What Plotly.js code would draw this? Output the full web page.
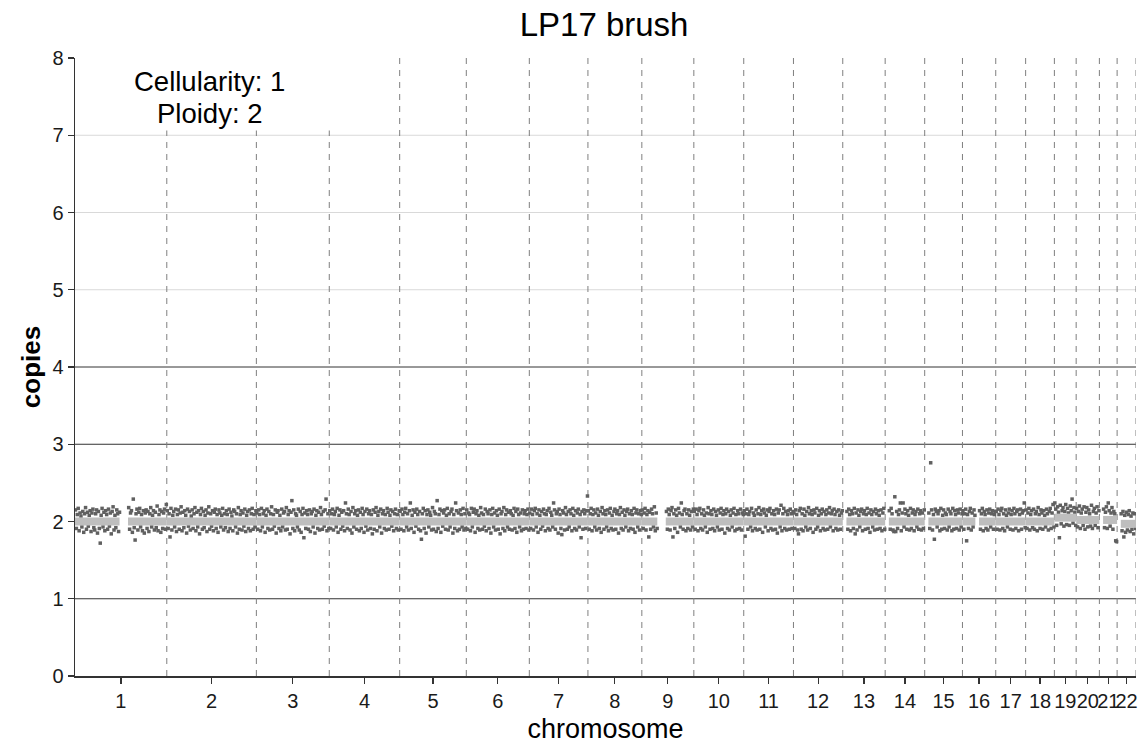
<!DOCTYPE html>
<html>
<head>
<meta charset="utf-8">
<script src="https://cdn.plot.ly/plotly-3.0.1.min.js"></script>
<style>html,body{margin:0;padding:0;background:#fff;}#chart{width:1143px;height:749px;}</style>
</head>
<body>
<div id="chart"></div>
<script>
// ---- data ----
const sampleName = 'LP17 brush';
const cellularity = 1;
const ploidy = 2;
const chromLabels = ['1','2','3','4','5','6','7','8','9','10','11','12','13','14','15','16','17','18','19','20','21','22'];
// chromosome lengths (Mb, hg19)
const chromLenMb = [249.25,243.2,198.02,191.15,180.92,171.12,159.14,146.36,141.21,135.53,135.01,133.85,115.17,107.35,102.53,90.35,81.2,78.08,59.13,63.03,48.13,51.3];
const yTicks = [0,1,2,3,4,5,6,7,8];

// copy number per bin, evenly spaced bins along each chromosome (null = no data)
const copies1 = [2.15,1.91,2.09,2.17,1.88,2.11,2.07,1.93,2.13,1.86,2.10,2.18,1.90,2.12,1.94,2.08,2.14,1.87,2.11,2.16,1.92,1.89,2.10,2.15,1.85,2.13,1.91,1.72,2.08,2.17,1.93,2.12,1.88,2.14,2.09,1.90,2.16,1.94,2.11,1.84,2.13,2.19,1.89,2.08,1.92,2.15,2.10,1.87,2.12,null,null,null,null,null,null,null,null,null,2.18,1.90,2.11,2.14,1.86,2.29,1.92,1.76,2.10,2.16,1.89,2.12,2.17,1.93,2.09,1.88,2.14,1.85,2.11,2.15,1.91,2.13,1.87,2.10,2.18,1.93,2.08,2.14,1.89,2.12,1.92,2.20,1.88,2.09,2.15,1.86,2.13,1.91,2.11,2.16,1.90,2.22];
const copies2 = [2.14,1.91,2.10,1.80,2.17,1.89,2.08,2.13,1.93,2.16,1.87,2.09,2.15,1.90,2.11,2.19,1.88,2.12,1.92,2.14,2.08,1.85,2.16,1.94,2.13,1.89,2.07,2.15,1.91,2.10,2.18,1.88,2.12,1.93,2.14,1.84,2.09,2.17,1.90,2.13,1.92,2.08,2.15,1.87,2.11,2.19,1.90,2.10,1.94,2.14,1.88,2.12,2.16,1.91,2.09,1.86,2.15,2.11,1.93,2.08,2.17,1.89,2.10,1.92,2.14,2.09,1.87,2.16,1.91,2.12,2.07,1.88,2.15,2.13,1.93,2.10,1.85,2.18,1.90,2.09,2.14,1.89,2.11,1.94,2.16,1.87,2.08,2.13,1.91,2.15,1.88,2.10,2.17,1.90,2.09,1.93,2.14];
const copies3 = [2.11,1.90,2.15,2.09,1.88,2.17,1.93,2.10,2.14,1.86,2.08,2.16,1.91,2.13,1.89,2.10,2.19,1.90,2.09,1.94,2.15,1.85,2.12,2.14,1.91,2.08,1.88,2.16,1.93,2.11,2.13,1.89,2.18,1.90,2.09,2.14,1.84,2.12,2.27,1.91,2.15,1.88,2.10,2.08,1.93,2.16,1.89,2.13,1.86,2.09,2.17,1.79,2.11,1.91,2.14,2.09,1.90,2.15,1.87,2.10,2.13,1.93,2.16,1.85,2.08,2.14,1.91,2.12,1.89,2.18,2.09,1.90,2.13,1.94,2.15,2.29,1.88,2.10,1.91];
const copies4 = [2.14,1.91,2.10,2.16,1.89,2.09,2.13,1.93,2.17,1.86,2.08,2.15,1.90,2.12,1.94,2.14,1.88,2.24,2.10,1.91,2.16,2.09,1.89,2.13,1.85,2.18,1.93,2.10,2.14,1.90,2.08,2.15,1.88,2.12,1.91,2.17,2.09,1.86,2.13,1.94,2.16,1.89,2.10,2.14,1.91,2.09,1.84,2.15,1.90,2.12,2.18,1.88,2.08,2.13,1.93,2.16,1.85,2.10,2.14,1.91,2.09,1.89,2.17,2.12,1.90,2.08,2.15,1.94,2.13,1.88,2.10,2.16,1.91,2.09,1.89,2.14];
const copies5 = [2.13,1.90,2.16,2.09,1.88,2.12,2.17,1.93,2.10,1.89,2.14,2.24,1.91,2.08,2.15,1.86,2.12,1.94,2.16,2.09,1.90,2.13,1.88,1.77,2.10,2.17,1.91,2.14,1.85,2.09,2.15,1.93,2.12,2.08,1.89,2.18,1.90,2.13,2.10,1.87,2.27,1.91,2.09,2.16,1.86,2.14,1.94,2.11,2.15,1.90,2.08,2.17,1.89,2.10,1.93,2.13,2.16,1.85,2.09,1.91,2.24,2.14,1.88,2.11,1.90,2.15,2.09,1.93,2.17,1.89,2.10,1.91];
const copies6 = [2.15,1.90,2.11,2.09,1.88,2.17,1.93,2.12,2.16,1.86,2.10,2.14,1.91,2.08,1.89,2.18,2.11,1.90,2.09,1.94,2.16,1.88,2.13,2.10,1.91,2.15,1.85,2.09,2.17,1.93,2.11,1.89,2.14,2.08,1.90,2.16,1.84,2.10,2.13,1.91,2.18,1.88,2.09,2.15,1.93,2.12,1.90,2.14,2.10,1.89,2.08,2.17,1.91,2.13,1.86,2.16,2.09,1.93,2.11,1.88,2.15,1.90,2.10,2.14,1.91,2.09,2.16,1.89];
const copies7 = [2.11,1.91,2.16,2.09,1.89,2.14,2.17,1.93,2.10,1.86,2.15,2.08,1.90,2.13,1.94,2.16,2.10,1.88,2.09,2.14,1.91,2.17,1.89,2.12,2.08,1.93,2.24,2.15,1.90,2.10,2.13,1.85,2.16,2.09,1.91,1.83,2.14,2.11,1.89,2.18,2.09,1.90,2.13,1.93,2.15,2.10,1.88,2.17,2.08,1.91,2.14,1.89,2.11,2.16,1.93,2.09,1.79,2.13,1.90,2.15,2.10,1.91,2.14,2.33];
const copies8 = [2.14,1.90,2.10,2.17,1.88,2.09,2.15,1.93,2.11,1.89,2.16,2.08,1.91,2.13,1.86,2.18,2.10,1.90,2.14,2.09,1.93,2.15,1.88,2.11,2.17,1.91,2.08,1.89,2.13,2.16,1.90,2.10,2.14,1.85,2.09,2.18,1.91,2.12,1.89,2.15,2.08,1.93,2.13,2.16,1.88,2.10,1.91,2.14,2.09,1.90,2.17,1.86,2.11,2.15,1.93,2.10,1.89,2.14,2.09];
const copies9 = [2.15,1.91,2.11,2.17,1.89,2.09,2.14,1.80,2.12,1.90,2.16,2.10,1.93,2.19,1.88,2.11,1.91,null,null,null,null,null,null,null,null,null,2.13,1.90,2.16,2.09,1.89,2.14,2.18,1.80,2.10,1.91,2.15,2.08,1.86,2.17,2.11,1.93,2.24,2.09,1.90,2.14,2.16,1.88,2.10,1.91,2.15,2.08,1.89,2.13,1.93,2.16];
const copies10 = [2.13,1.90,2.16,2.09,1.88,2.14,2.17,1.91,2.10,1.89,2.15,2.08,1.93,2.11,1.86,2.18,2.10,1.90,2.14,2.09,1.91,2.16,1.88,2.13,2.08,1.93,2.15,1.89,2.11,2.17,1.90,2.09,2.14,1.85,2.10,2.16,1.91,2.13,1.89,2.08,2.15,1.93,2.11,2.17,1.88,2.09,1.90,2.14,2.10,1.91,2.16,1.89,2.11,2.09];
const copies11 = [2.14,1.81,2.10,2.16,1.90,2.09,2.13,1.93,2.17,1.88,2.11,2.08,1.91,2.15,1.89,2.10,2.18,1.90,2.09,2.14,1.86,2.16,2.11,1.93,2.08,2.15,1.88,2.13,2.17,1.91,2.10,1.89,2.14,2.09,1.90,2.16,1.85,2.11,2.15,1.93,2.21,1.88,2.10,2.17,1.91,2.13,1.89,2.09,2.14,1.90,2.16,2.10,1.91,2.13];
const copies12 = [2.11,1.91,2.15,2.09,1.89,1.84,2.14,2.17,1.90,2.10,1.88,2.16,2.08,1.93,2.13,1.89,2.18,2.10,1.91,2.14,2.09,1.86,2.15,2.11,1.90,2.17,1.93,2.08,2.14,1.88,2.10,2.16,1.91,2.13,1.89,2.09,2.15,1.90,2.11,2.18,1.93,2.10,2.14,1.88,2.16,2.09,1.91,2.13,1.89,2.15,2.08,1.90,2.11,2.14];
const copies13 = [null,null,null,null,2.13,1.90,2.16,2.09,1.88,2.14,2.10,1.91,2.17,1.84,2.11,1.89,2.15,2.08,1.93,2.13,2.16,1.88,2.10,2.14,1.90,2.09,2.17,1.91,2.11,1.86,2.15,2.09,1.93,2.13,1.89,2.16,2.10,1.90,2.14,2.08,1.91,2.15,1.88,2.11,2.17,1.90];
const copies14 = [null,null,null,null,2.14,1.90,2.17,2.10,1.89,1.87,2.32,1.87,2.13,1.91,2.09,2.15,2.24,1.88,2.11,2.24,1.93,2.16,2.10,1.90,2.14,2.08,1.89,2.17,1.91,2.11,2.15,1.88,2.09,2.13,1.93,2.16,1.90,2.10,2.14,1.89,2.11,1.91,2.15];
const copies15 = [null,null,null,null,2.11,1.91,2.76,2.15,1.89,2.09,1.77,2.16,2.13,1.93,2.10,2.14,1.88,2.17,1.90,2.08,2.15,1.91,2.11,2.09,1.89,2.16,1.93,2.13,2.10,1.88,2.17,1.90,2.14,2.09,1.91,2.15,2.11,1.89,2.16,1.93,2.10];
const copies16 = [2.14,1.90,2.10,2.16,1.75,2.09,1.91,2.13,2.17,1.89,2.11,1.93,2.15,2.08,null,null,null,null,2.14,1.90,2.10,2.17,1.88,2.13,2.09,1.91,2.15,1.89,2.11,2.16,1.93,2.10,2.14,1.90,2.09,2.13];
const copies17 = [2.13,1.90,2.16,2.09,1.89,2.14,2.17,1.91,2.10,1.88,2.15,2.08,1.93,2.11,2.16,1.90,2.09,2.14,1.89,2.17,2.10,1.91,2.13,2.15,1.88,2.09,2.16,1.90,2.11,2.14,2.24,1.92];
const copies18 = [2.15,1.91,2.11,2.17,1.89,2.09,2.14,1.92,2.16,1.90,2.10,2.13,1.88,2.18,2.09,1.91,2.15,2.11,1.90,2.14,2.08,1.93,2.16,2.10,1.89,2.13,2.17,1.91,2.11,2.22,1.93];
const copies19 = [2.24,2.16,1.95,2.19,2.12,1.79,2.21,1.97,2.14,2.18,1.94,2.13,2.22,1.96,2.17,2.11,1.95,2.20,2.14,2.29,1.98,2.18,2.12,1.95];
const copies20 = [2.17,1.93,2.13,2.20,1.91,2.11,2.16,1.95,2.19,1.90,2.12,2.18,1.93,2.15,2.10,1.94,2.21,1.91,2.13,2.17,1.95,2.11,2.19,1.92,2.14];
const copies21 = [null,null,null,null,2.16,1.92,2.12,2.19,1.91,2.24,2.14,1.94,2.11,2.18,1.90,2.13,2.10,1.75,1.74];
const copies22 = [null,null,null,null,2.10,1.88,2.13,1.80,2.08,1.86,2.12,1.89,2.09,2.14,1.87,2.07,1.90,2.11,1.84,2.10,1.91];

// segments: chromosome index (1-based), start Mb, end Mb, copy number
const segChrom = [1,1,2,3,4,5,6,7,8,9,9,10,11,12,13,14,15,16,16,17,18,19,20,21,22];
const segStart = [0,144,0,0,0,0,0,0,0,0,65,0,0,0,10,10,10,0,45,0,0,0,0,10,10];
const segEnd   = [121,249.25,243.2,198.02,191.15,180.92,171.12,159.14,146.36,42,141.21,135.53,135.01,133.85,115.17,107.35,102.53,35,90.35,81.2,78.08,59.13,63.03,48.13,51.3];
const segCopies= [2.0,2.0,2.0,2.0,2.0,2.0,2.0,2.0,2.0,2.0,2.0,2.0,2.0,2.0,2.0,2.0,2.0,2.0,2.0,2.0,2.0,2.05,2.02,2.02,1.97];

const copiesByChrom = [copies1,copies2,copies3,copies4,copies5,copies6,copies7,copies8,copies9,copies10,copies11,copies12,copies13,copies14,copies15,copies16,copies17,copies18,copies19,copies20,copies21,copies22];

// ---- build ----
const offsets = [];
let acc = 0;
chromLenMb.forEach(l => { offsets.push(acc); acc += l; });
const genomeEnd = acc;
const mids = chromLenMb.map((l, i) => offsets[i] + l / 2);
const ends = chromLenMb.map((l, i) => offsets[i] + l);

const px = [], py = [];
copiesByChrom.forEach((arr, c) => {
  const bin = chromLenMb[c] / arr.length;
  arr.forEach((v, i) => {
    if (v === null) return;
    px.push(offsets[c] + (i + 0.5) * bin);
    py.push(v);
  });
});

const sx = [], sy = [];
segChrom.forEach((c, k) => {
  sx.push(offsets[c - 1] + segStart[k], offsets[c - 1] + segEnd[k], null);
  sy.push(segCopies[k], segCopies[k], null);
});

const FONT = 'Liberation Sans, Arial, sans-serif';
const shapes = [];
[5, 6, 7].forEach(v => shapes.push({type:'line', xref:'paper', x0:0, x1:1, yref:'y', y0:v, y1:v, layer:'below', line:{color:'#d9d9d9', width:1}}));
[1, 3, 4].forEach(v => shapes.push({type:'line', xref:'paper', x0:0, x1:1, yref:'y', y0:v, y1:v, layer:'below', line:{color:'#333333', width:1}}));
ends.forEach(e => shapes.push({type:'line', xref:'x', x0:e, x1:e, yref:'y', y0:0, y1:8, layer:'below', line:{color:'#7f7f7f', width:1, dash:'6px,6px'}}));
// white box behind the annotation text
shapes.push({type:'rect', xref:'x', x0:20, x1:760, yref:'y', y0:7.06, y1:8, layer:'above', fillcolor:'#ffffff', line:{width:0}});

const traces = [
  {x:px, y:py, type:'scatter', mode:'markers', marker:{symbol:'square', size:3.5, color:'#606060', line:{width:0}}, hoverinfo:'skip'},
  {x:sx, y:sy, type:'scatter', mode:'lines', line:{color:'#bebebe', width:8}, connectgaps:false, hoverinfo:'skip'}
];

const layout = {
  width:1143, height:749,
  margin:{l:75, r:7, t:58, b:73},
  paper_bgcolor:'#ffffff', plot_bgcolor:'#ffffff',
  showlegend:false,
  font:{family:FONT, color:'#1a1a1a'},
  title:{text:sampleName, font:{family:FONT, size:33, color:'#000'}, x:0.5285, xanchor:'center', y:0.968, yanchor:'middle'},
  xaxis:{range:[0, genomeEnd], tickvals:mids, ticktext:chromLabels, tickangle:0, showgrid:false, zeroline:false,
    showline:true, linecolor:'#333333', linewidth:1.5, ticks:'outside', ticklen:6, tickcolor:'#333333', tickwidth:1.2,
    tickfont:{family:FONT, size:20, color:'#1a1a1a'},
    title:{text:'chromosome', font:{family:FONT, size:27, color:'#000'}, standoff:8}},
  yaxis:{range:[0,8], tickvals:yTicks, showgrid:false, zeroline:false,
    showline:true, linecolor:'#333333', linewidth:1.5, ticks:'outside', ticklen:6, tickcolor:'#333333', tickwidth:1.2,
    tickfont:{family:FONT, size:20, color:'#1a1a1a'},
    title:{text:'<b>copies</b>', font:{family:FONT, size:26, color:'#000'}, standoff:4}},
  shapes:shapes,
  annotations:[
    {text:'Cellularity: ' + cellularity, xref:'paper', yref:'paper', x:0.127, y:0.962, xanchor:'center', yanchor:'middle', showarrow:false, font:{family:FONT, size:27.5, color:'#000'}},
    {text:'Ploidy: ' + ploidy, xref:'paper', yref:'paper', x:0.127, y:0.911, xanchor:'center', yanchor:'middle', showarrow:false, font:{family:FONT, size:27.5, color:'#000'}}
  ]
};

Plotly.newPlot('chart', traces, layout, {staticPlot:true, displayModeBar:false});
</script>
</body>
</html>
